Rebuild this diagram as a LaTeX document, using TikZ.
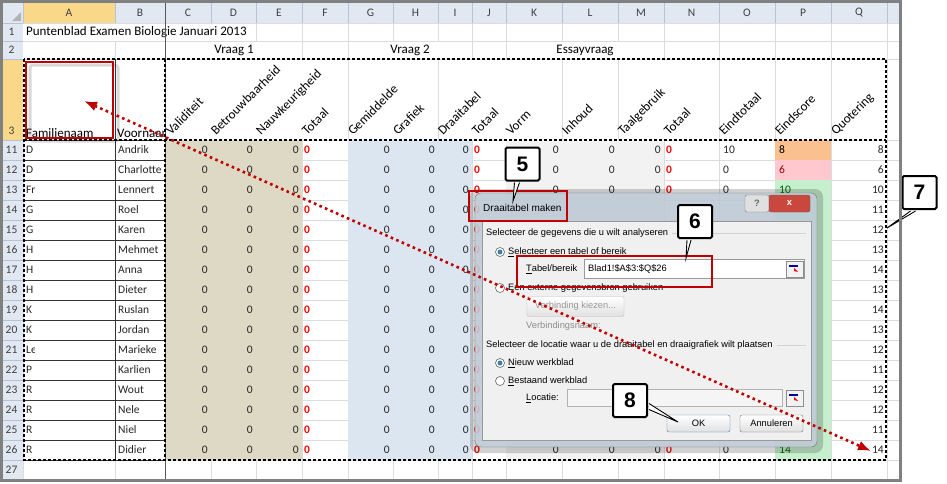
\documentclass[tikz,border=0pt]{standalone}
\usepackage{fontspec}
\setmainfont{Carlito}
\newfontfamily\dlgfont{Liberation Sans}
\usetikzlibrary{arrows.meta}

\definecolor{hdrblue}{HTML}{E1E8F2}
\definecolor{hdrline}{HTML}{B4C3D6}
\definecolor{hdrsel}{HTML}{F9D88A}
\definecolor{gridgray}{HTML}{DADCDD}
\definecolor{tanfill}{HTML}{DDD9C4}
\definecolor{bluefill}{HTML}{DCE6F1}
\definecolor{greyfill}{HTML}{F2F2F2}
\definecolor{orangefill}{HTML}{FAC090}
\definecolor{pinkfill}{HTML}{FFC7CE}
\definecolor{pinktext}{HTML}{9C0006}
\definecolor{greenfill}{HTML}{C6EFCE}
\definecolor{greentext}{HTML}{006100}
\definecolor{markred}{HTML}{C00000}
\definecolor{celltext}{HTML}{262626}
\definecolor{dlgframe}{HTML}{C3CEDB}
\definecolor{dlgback}{HTML}{F0F0F0}
\definecolor{closered}{HTML}{C9473D}
\definecolor{okblue}{HTML}{3C7FB1}

\newcommand\xlsize{\fontsize{11.5}{13}\selectfont}
\newcommand\xlbig{\fontsize{13}{15}\selectfont}
\newcommand\dlgsize{\dlgfont\fontsize{9.3}{11}\selectfont}

\tikzset{
  xlcell/.style={inner sep=0pt, font=\xlsize, text=celltext},
  numr/.style={xlcell, anchor=east},
  numl/.style={xlcell, anchor=west},
  redzero/.style={xlcell, anchor=west, text=red, font=\xlsize\bfseries},
  colhead/.style={xlcell, text=black!75},
  toptext/.style={xlcell, font=\xlbig, text=black},
  rothead/.style={toptext, anchor=base west, rotate=45},
  dlgtext/.style={inner sep=0pt, anchor=west, font=\dlgsize, text=black},
  dlgbutton/.style={draw=black!55, rounded corners=2pt, top color=white, bottom color=black!12,
     minimum width=63pt, minimum height=17pt, inner sep=0pt, font=\dlgsize},
  pickicon/.style={draw=black!45, fill=black!5, minimum width=17pt, minimum height=16pt, inner sep=0pt},
  redbox/.style={draw=markred, line width=2pt},
  ants/.style={draw=black, line width=1.1pt, dash pattern=on 3pt off 2pt},
  numbubble/.style={draw=black, line width=2pt, fill=white, rounded corners=1.5pt,
     minimum width=34pt, minimum height=33pt, inner sep=0pt,
     font=\dlgfont\fontsize{21}{21}\selectfont\bfseries},
  bubbletail/.style={draw=black, line width=0.9pt, fill=white},
  radiobtn/.style={draw=black!60, fill=white, line width=0.6pt}
}

\begin{document}
\begin{tikzpicture}[x=1pt,y=-1pt]
\useasboundingbox (0,0) rectangle (947,483);
\fill[white] (0,0) rectangle (947,483);

% column and row headers
\fill[hdrblue] (0,2) rectangle (900,23);
\fill[hdrblue] (0,23) rectangle (23,480);
\fill[hdrsel] (23,2) rectangle (115,23);
\fill[hdrsel] (0,59) rectangle (23,140);
\fill[black!30] (21,12) -- (21,21) -- (12,21) -- cycle;
\foreach \x in {23,115,165,211,256,302,348,393,438,472,506,562,618,664,719,775,831,887}
  \draw[hdrline] (\x,2) -- (\x,23);
\foreach \y in {23,41,59,140}
  \draw[hdrline] (0,\y) -- (23,\y);
\foreach \y in {160,180,...,460}
  \draw[hdrline] (0,\y) -- (23,\y);

% gridlines
\foreach \y in {23,41,59,140}
  \draw[gridgray] (23,\y) -- (900,\y);
\foreach \y in {160,180,...,480}
  \draw[gridgray] (23,\y) -- (900,\y);
\foreach \x in {23,115,165,211,256,302,348,393,438,472,506,562,618,664,719,775,831,887}
  \draw[gridgray] (\x,140) -- (\x,480);
\foreach \x in {256,302,348,393,438,472,506,562,618,664,719,775,831,887}
  \draw[gridgray] (\x,23) -- (\x,41);
\foreach \x in {115,302,348,472,506,664,719,775,831,887}
  \draw[gridgray] (\x,41) -- (\x,59);
\foreach \x in {348,438,562,618,719,775,831,887}
  \draw[gridgray] (\x,59) -- (\x,140);

% cell fills
\fill[tanfill] (166,140) rectangle (302,460);
\fill[bluefill] (348,140) rectangle (472,460);
\fill[greyfill] (506,140) rectangle (664,460);
\fill[orangefill] (775,140) rectangle (831,160);
\fill[pinkfill] (775,160) rectangle (831,180);
\fill[greenfill] (775,180) rectangle (831,460);

% header letters and row numbers
\foreach \l/\a/\b in {A/23/115,B/115/165,C/165/211,D/211/256,E/256/302,F/302/348,G/348/393,H/393/438,I/438/472,J/472/506,K/506/562,L/562/618,M/618/664,N/664/719,O/719/775,P/775/831,Q/831/887}
  \node[colhead] (h\l) at ({(\a+\b)/2},13) {\l};
\node[colhead] (n1) at (11.5,32) {1};
\node[colhead] (n2) at (11.5,50) {2};
\node[colhead] (n3) at (11.5,131) {3};
\foreach \r [count=\i from 0] in {11,...,27}
  \node[colhead] (n\r) at (11.5,{150+20*\i}) {\r};

% rows 1 and 2
\node[toptext, anchor=west] (title) at (26,32) {Puntenblad Examen Biologie Januari 2013};
\node[toptext] (vraag1) at (234,50) {Vraag 1};
\node[toptext] (vraag2) at (410,50) {Vraag 2};
\node[toptext] (essay) at (585,50) {Essayvraag};

% row 3
\draw[black!15, line width=3pt, rounded corners=3pt] (30,65) rectangle (118,141);
\node[toptext, anchor=base west] (famnaam) at (26,137) {Familienaam};
\begin{scope}
  \clip (115,59) rectangle (165,140);
  \node[toptext, anchor=base west] (voornaam) at (117,137) {Voornaam};
\end{scope}
\foreach \t/\x in {Validiteit/166,Betrouwbaarheid/211,Nauwkeurigheid/256,Totaal/302,Gemiddelde/348,Grafiek/393,Draaitabel/438,Totaal/472,Vorm/506,Inhoud/562,Taalgebruik/618,Totaal/664,Eindtotaal/719,Eindscore/775,Quotering/831}
  \node[rothead] (k\x) at (\x+5,136) {\t};

% data rows 11-26
\begin{scope}
  \clip (23,140) rectangle (34,460);
  \foreach \fam [count=\i from 0] in {D,D,Fr,G,G,H,H,H,K,K,Le,P,R,R,R,R}
    \node[numl] (fam\i) at (26,{150+20*\i}) {\fam};
\end{scope}
\foreach \voor/\eind/\pcol/\quot [count=\i from 0] in {Andrik/10/black/8,Charlotte/0/pinktext/6,Lennert/0/greentext/10,Roel/0/greentext/11,Karen/0/greentext/12,Mehmet/0/greentext/13,Anna/0/greentext/14,Dieter/0/greentext/13,Ruslan/0/greentext/14,Jordan/0/greentext/13,Marieke/0/greentext/12,Karlien/0/greentext/11,Wout/0/greentext/12,Nele/0/greentext/12,Niel/0/greentext/11,Didier/0/greentext/14}{
  \pgfmathsetmacro\yy{150+20*\i}
  \pgfmathtruncatemacro\hid{and(\i>2,\i<15)}
  \node[numl] (voor\i) at (118,\yy) {\voor};
  \foreach \x [count=\k] in {208,253,299,390,435,469}
    \node[numr] (v\i-\k) at (\x,\yy) {0};
  \foreach \x [count=\k] in {304,474}
    \node[redzero] (z\i-\k) at (\x,\yy) {0};
  \ifnum\hid=0
    \foreach \x [count=\k] in {559,615,661}
      \node[numr] (w\i-\k) at (\x,\yy) {0};
    \node[redzero] (zn\i) at (666,\yy) {0};
    \node[numl] (eind\i) at (723,\yy) {\eind};
    \node[numl, text=\pcol] (score\i) at (779,\yy) {\quot};
  \fi
  \node[numr] (quot\i) at (884,\yy) {\quot};
}

% borders, freeze line, selection
\foreach \y in {140,160,...,460}
  \draw[black!80, line width=0.9pt] (24,\y) -- (165,\y);
\draw[black!80, line width=0.9pt] (115,59) -- (115,460);
\draw[black!65, line width=0.8pt] (165,2) -- (165,480);
\draw[ants] (24,59) rectangle (886,460);
\draw[ants] (24,140) -- (886,140);
\draw[ants] (165,59) -- (165,460);
\draw[redbox] (26,62) rectangle (113,138);

% dialog
\fill[black, opacity=0.18, rounded corners=8pt] (470,189) rectangle (823,453);
\draw[black!55, fill=dlgframe, fill opacity=0.88, rounded corners=6pt] (475,193) rectangle (817,447);
\draw[black!40, fill=dlgback] (482,221) rectangle (811,440);
\node[anchor=west, inner sep=0pt, font=\dlgfont\fontsize{10}{12}\selectfont] (dtitle) at (483,208) {Draaitabel maken};
\node[draw=black!50, fill=black!12, rounded corners=2pt, minimum width=24pt, minimum height=17pt, inner sep=0pt, font=\dlgsize\bfseries, text=black!60] (help) at (757,203.5) {?};
\node[draw=black!60, fill=closered, rounded corners=2pt, minimum width=41pt, minimum height=17pt, inner sep=0pt, font=\dlgsize\bfseries, text=white] (close) at (789.5,203.5) {x};

\node[dlgtext] (sel1) at (486,233) {Selecteer de gegevens die u wilt analyseren};
\coordinate (sep1) at (806,233);
\draw[black!18] ([xshift=4pt]sel1.east) -- (sep1);
\draw[radiobtn] (500,252) circle (4.5pt);
\fill[okblue] (500,252) circle (2.5pt);
\node[dlgtext] (opt1) at (508,252) {\underline{S}electeer een tabel of bereik};
\node[dlgtext] (tablbl) at (526,269) {\underline{T}abel/bereik};
\node[draw=black!40, fill=white, minimum width=220pt, minimum height=19pt, inner sep=0pt, anchor=west] (tabbox) at (584,269) {};
\node[dlgtext] (tabval) at (588,269) {Blad1!\$A\$3:\$Q\$26};
\node[pickicon] (pick1) at (795,269) {};
\fill[blue!60!black] ([shift={(-6pt,4pt)}]pick1.center) rectangle ([shift={(3pt,2pt)}]pick1.center);
\fill[red] ([shift={(-1pt,1pt)}]pick1.center) -- ([shift={(3pt,-3pt)}]pick1.center) -- ([shift={(-1pt,-2pt)}]pick1.center) -- cycle;
\draw[radiobtn] (500,288) circle (4.5pt);
\node[dlgtext] (opt2) at (508,288) {Een externe gegevensbron gebruiken};
\node[dlgbutton, draw=black!25, minimum width=97pt, minimum height=20pt, text=black!40] (verbind) at (575.5,306.5) {Verbinding kiezen...};
\node[dlgtext, text=black!45] (verbnaam) at (526,326) {Verbindingsnaam:};
\node[dlgtext] (sel2) at (486,345) {Selecteer de locatie waar u de draaitabel en draaigrafiek wilt plaatsen};
\coordinate (sep2) at (806,345);
\draw[black!18] ([xshift=4pt]sel2.east) -- (sep2);
\draw[radiobtn] (500,363) circle (4.5pt);
\fill[okblue] (500,363) circle (2.5pt);
\node[dlgtext] (opt3) at (508,363) {\underline{N}ieuw werkblad};
\draw[radiobtn] (500,381) circle (4.5pt);
\node[dlgtext] (opt4) at (508,381) {\underline{B}estaand werkblad};
\node[dlgtext] (loclbl) at (526,398) {\underline{L}ocatie:};
\node[draw=black!30, fill=black!4, minimum width=215pt, minimum height=17pt, inner sep=0pt, anchor=west] (locbox) at (567,398) {};
\node[pickicon] (pick2) at (795,398) {};
\fill[blue!60!black] ([shift={(-6pt,4pt)}]pick2.center) rectangle ([shift={(3pt,2pt)}]pick2.center);
\fill[red] ([shift={(-1pt,1pt)}]pick2.center) -- ([shift={(3pt,-3pt)}]pick2.center) -- ([shift={(-1pt,-2pt)}]pick2.center) -- cycle;
\node[dlgbutton, draw=okblue] (okbtn) at (698.5,423.5) {OK};
\node[dlgbutton] (annuleer) at (771.5,423.5) {Annuleren};

% red marks in dialog
\draw[redbox] (469,191) rectangle (567,221);
\draw[redbox] (517,256) rectangle (712,287);

% numbered callouts
\node[numbubble] (c5) at (522.5,164) {5};
\node[numbubble] (c6) at (695,221.5) {6};
\node[numbubble] (c7) at (919.5,192.5) {7};
\node[numbubble] (c8) at (630,400.5) {8};
\coordinate (t5) at (513,201);
\coordinate (t6) at (686,258);
\coordinate (t7) at (887,228);
\coordinate (t8) at (678,422);
\draw[bubbletail] ([shift={(-8pt,-1pt)}]c5.south) -- (t5) -- ([shift={(-3pt,-1pt)}]c5.south);
\draw[bubbletail] ([shift={(-8pt,-1pt)}]c6.south) -- (t6) -- ([shift={(-4pt,-1pt)}]c6.south);
\draw[bubbletail] ([shift={(9pt,-1pt)}]c7.south west) -- (t7) -- ([shift={(14pt,-1pt)}]c7.south west);
\draw[bubbletail] ([shift={(1pt,-3pt)}]c8.east) -- (t8) -- ([shift={(1pt,-9pt)}]c8.east);

% dotted arrow
\coordinate (pA) at (84,101);
\coordinate (pB) at (871,451);
\draw[markred, line width=2.6pt, dash pattern=on 2.6pt off 3.4pt, {Latex[length=13pt,width=10pt]}-{Latex[length=13pt,width=10pt]}] (pA) -- (pB);

% screenshot frame
\draw[black!50, line width=3pt] (1,1) rectangle (900,480);
\end{tikzpicture}
\end{document}
